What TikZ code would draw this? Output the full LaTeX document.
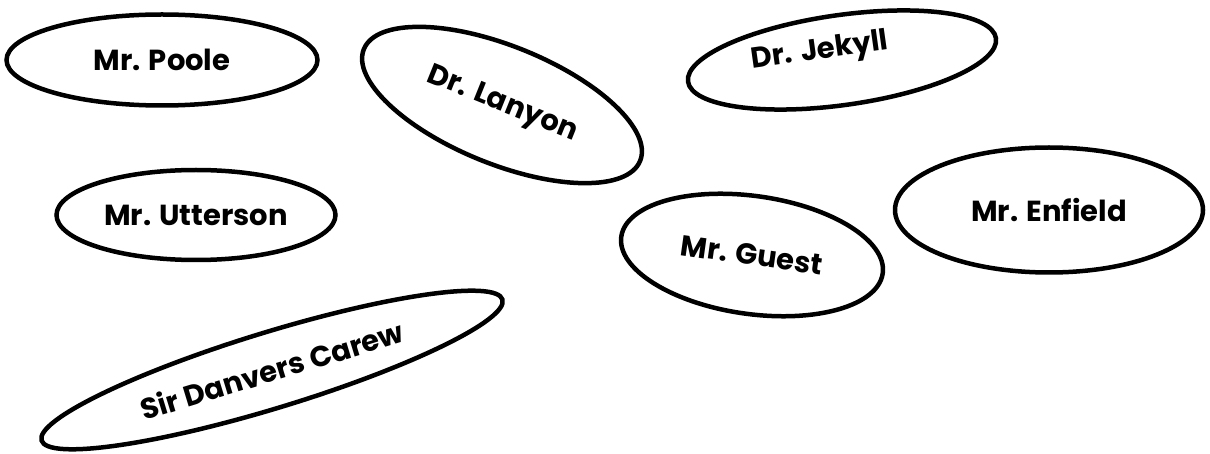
\documentclass[tikz,border=0pt]{standalone}
\usepackage{fontspec}
\setmainfont{Poppins}
\usetikzlibrary{shapes.geometric}

\begin{document}
\begin{tikzpicture}[x=1pt,y=-1pt,
    person/.style={draw,ellipse,line width=4.5pt,inner sep=0pt,
      font=\bfseries\fontsize{29}{34}\selectfont}]
  \useasboundingbox (0,0) rectangle (1210,454);
  \node[person,minimum width=311pt,minimum height=91pt] (poole) at (162,60) {Mr. Poole};
  \node[person,minimum width=298pt,minimum height=118pt,rotate=-22] (lanyon) at (502,105) {Dr. Lanyon};
  \node[person,minimum width=311pt,minimum height=90pt,rotate=8] (jekyll) at (842,60) {};
  \node[font=\bfseries\fontsize{29}{34}\selectfont,rotate=8] (jekyllname) at (820,52) {Dr. Jekyll};
  \node[person,minimum width=279pt,minimum height=90pt] (utterson) at (196,215) {Mr. Utterson};
  \node[person,minimum width=264pt,minimum height=118pt,rotate=-8] (guest) at (752,255) {Mr. Guest};
  \node[person,minimum width=308pt,minimum height=125pt] (enfield) at (1049,210) {Mr. Enfield};
  \node[person,minimum width=482pt,minimum height=76pt,rotate=17] (carew) at (272,370) {Sir Danvers Carew};
\end{tikzpicture}
\end{document}
